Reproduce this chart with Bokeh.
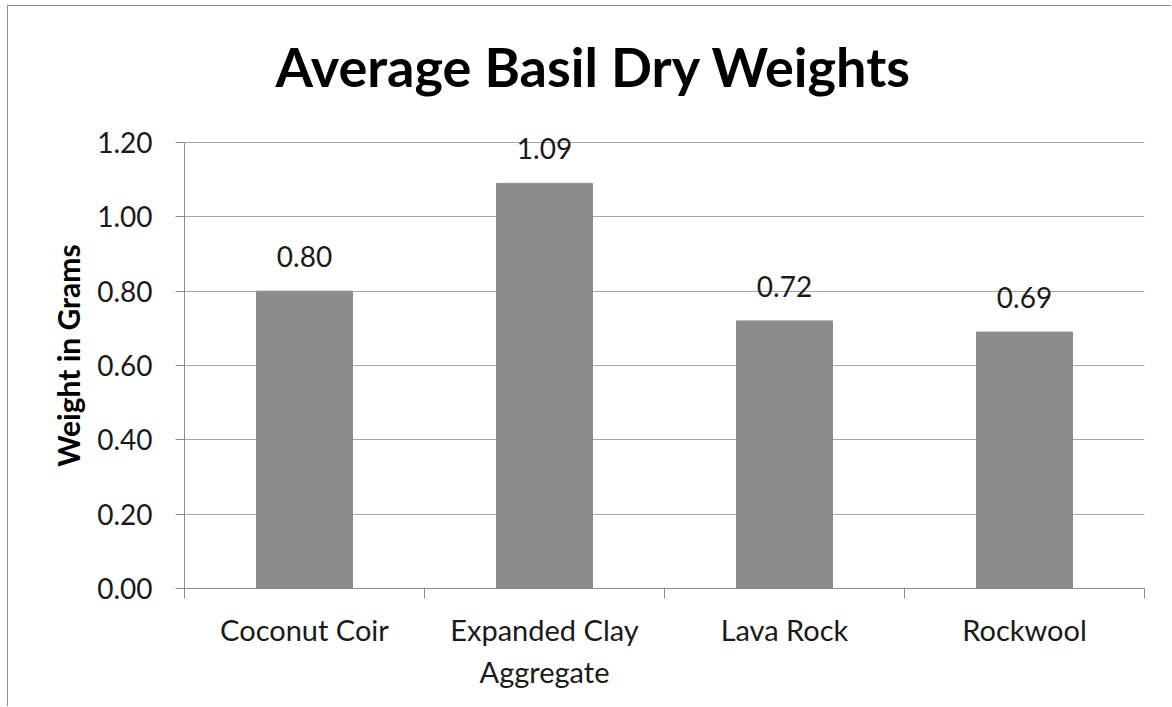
from bokeh.plotting import figure
from bokeh.models import (Range1d, FixedTicker, NumeralTickFormatter, ColumnDataSource, LabelSet)
from bokeh.core.properties import value
from bokeh.embed import file_html
from bokeh.resources import INLINE

# ---- data ----
categories = ["Coconut Coir", "Expanded Clay\nAggregate", "Lava Rock", "Rockwool"]
weights = [0.80, 1.09, 0.72, 0.69]
y_ticks = [0.0, 0.2, 0.4, 0.6, 0.8, 1.0, 1.2]
title_text = "Average Basil Dry Weights"
y_label = "Weight in Grams"

FONT = "Lato"
GRID = "#A6A6A6"
AXIS = "#8C8C8C"
BAR = "#8C8C8C"
TXT = "#1A1A1A"

n = len(categories)
centers = [i + 0.5 for i in range(n)]      # category slot centres
bounds = list(range(n + 1))                 # category slot boundaries

# layout: plot area is a bit taller than the axis so labels above bars are not clipped
FIG_W, FIG_H = 1164, 701
MB_TOP, MB_BOTTOM = 116, 119
AXIS_PX = 446                               # pixel height of the 0..1.2 axis
frame_h = FIG_H - MB_TOP - MB_BOTTOM
y_top = y_ticks[-1] * frame_h / AXIS_PX

src = ColumnDataSource(dict(x=centers, w=weights, lab=[f"{v:.2f}" for v in weights]))

p = figure(width=FIG_W, height=FIG_H, output_backend="svg", toolbar_location=None,
           x_range=Range1d(0, n), y_range=Range1d(y_ticks[0], y_top),
           min_border_left=176, min_border_right=28,
           min_border_top=MB_TOP, min_border_bottom=MB_BOTTOM)
p.background_fill_color = "white"
p.border_fill_color = "white"
p.outline_line_color = None
p.styles = {"margin-left": "7px", "margin-top": "5px",
            "border-left": "1px solid #8C8C8C", "border-top": "1px solid #8C8C8C"}

# title
p.title.text = title_text
p.title.text_font = FONT
p.title.text_font_style = "bold"
p.title.text_font_size = "54px"
p.title.text_color = "black"
p.title.align = "left"
p.title.offset = 91
p.title.standoff = 48

# x axis: labels at slot centres, ticks at slot boundaries
xa = p.xaxis[0]
xa.ticker = FixedTicker(ticks=centers, minor_ticks=bounds)
xa.major_label_overrides = {c: lab for c, lab in zip(centers, categories)}
xa.axis_line_color = AXIS
xa.major_tick_line_color = None
xa.major_tick_out = 10
xa.minor_tick_line_color = AXIS
xa.minor_tick_out = 10
xa.minor_tick_in = 0
xa.major_label_text_font = FONT
xa.major_label_text_font_size = "29px"
xa.major_label_text_color = TXT
xa.major_label_standoff = 13
xa.major_label_orientation = "horizontal"

# y axis
ya = p.yaxis[0]
ya.ticker = FixedTicker(ticks=y_ticks, minor_ticks=[])
ya.formatter = NumeralTickFormatter(format="0.00")
ya.bounds = (y_ticks[0], y_ticks[-1])
ya.axis_line_color = AXIS
ya.major_tick_line_color = AXIS
ya.major_tick_out = 9
ya.major_tick_in = 0
ya.minor_tick_line_color = None
ya.major_label_text_font = FONT
ya.major_label_text_font_size = "28px"
ya.major_label_text_color = TXT
ya.major_label_standoff = 23
ya.axis_label = y_label
ya.axis_label_text_font = FONT
ya.axis_label_text_font_style = "bold"
ya.axis_label_text_font_size = "30px"
ya.axis_label_text_color = "black"
ya.axis_label_standoff = 8

p.ygrid.grid_line_color = GRID
p.ygrid.ticker = FixedTicker(ticks=y_ticks, minor_ticks=[])
p.xgrid.grid_line_color = None

# bars
p.vbar(x="x", top="w", width=0.4, source=src, fill_color=BAR, line_color=BAR)

# data labels
labels = LabelSet(x="x", y="w", text="lab", source=src, text_align="center",
                  text_baseline="alphabetic", y_offset=24, text_font=value(FONT),
                  text_font_size=value("28px"), text_color=value(TXT))
p.add_layout(labels)

open("out.html", "w").write(file_html(p, INLINE))
